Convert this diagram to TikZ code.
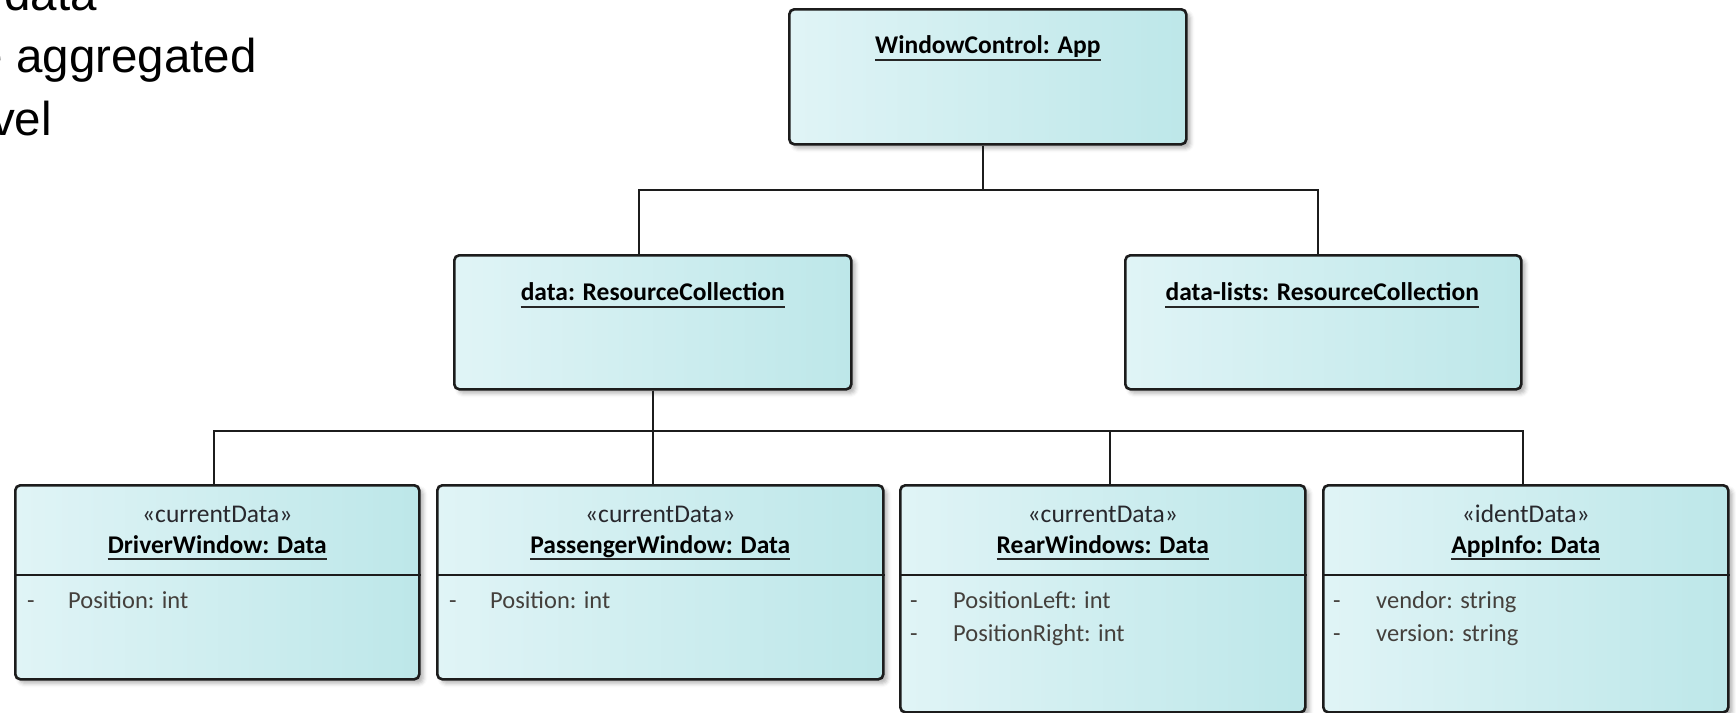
\documentclass[tikz,border=0pt]{standalone}
\usepackage{fontspec}
\setmainfont{Carlito}
\newfontfamily\arialfont{Liberation Sans}
\usetikzlibrary{shadows.blur,calc}
\definecolor{boxleft}{RGB}{224,244,246}
\definecolor{boxright}{RGB}{189,231,233}
\definecolor{edge}{RGB}{28,28,28}
\definecolor{attrtext}{RGB}{68,64,60}
\definecolor{stereotext}{RGB}{40,40,45}
\begin{document}
\begin{tikzpicture}[x=1pt,y=-1pt,
  umlbox/.style={draw=edge, line width=2.6pt, rounded corners=5pt,
    left color=boxleft, right color=boxright,
    blur shadow={shadow xshift=4pt, shadow yshift=-4pt, shadow blur radius=4pt, shadow opacity=30},
    inner sep=0pt, anchor=north west},
  conn/.style={draw=edge, line width=2.3pt},
  titletext/.style={inner sep=0pt, anchor=base, font=\fontsize{25.5}{30}\selectfont\bfseries, text=black},
  stereo/.style={inner sep=0pt, anchor=base, font=\fontsize{25.5}{30}\selectfont, text=stereotext},
  attr/.style={inner sep=0pt, anchor=base west, font=\fontsize{24.5}{30}\selectfont, text=attrtext},
  uline/.style={line width=2.3pt, draw=black!85},
  sep/.style={line width=2.5pt, draw=edge},
  lead/.style={inner sep=0pt, anchor=base east, font=\fontsize{47.5}{57}\arialfont, text=black}
]
\useasboundingbox (0,0) rectangle (1736,712);
\clip (0,0) rectangle (1736,712);

% paragraph text at the left
\node[lead] (lead1) at (97,10) {data};
\node[lead] (lead2) at (257,72) {e aggregated};
\node[lead] (lead3) at (52,135) {vel};

% boxes
\node[umlbox, minimum width=397pt, minimum height=135pt] (wc) at (788,8) {};
\node[umlbox, minimum width=397pt, minimum height=134pt] (dat) at (453,254) {};
\node[umlbox, minimum width=396pt, minimum height=134pt] (dl) at (1124,254) {};
\node[umlbox, minimum width=404pt, minimum height=194pt] (drv) at (14,484) {};
\node[umlbox, minimum width=446pt, minimum height=194pt] (pas) at (436,484) {};
\node[umlbox, minimum width=405pt, minimum height=227pt] (rear) at (899,484) {};
\node[umlbox, minimum width=405pt, minimum height=227pt] (app) at (1322,484) {};

% titles of the upper boxes
\node[titletext] (wct) at ($(wc.north)+(0,45)$) {WindowControl: App};
\node[titletext] (datt) at ($(dat.north)+(0,46)$) {data: ResourceCollection};
\node[titletext] (dlt) at ($(dl.north)+(-1,46)$) {data-lists: ResourceCollection};
\foreach \t in {wct,datt,dlt}
  \draw[uline] ([yshift=-7pt]\t.base west) -- ([yshift=-7pt]\t.base east);

% data boxes: stereotype, name, compartment line, attributes
\foreach \b/\s/\n in {drv/currentData/DriverWindow: Data,
                      pas/currentData/PassengerWindow: Data,
                      rear/currentData/RearWindows: Data,
                      app/identData/AppInfo: Data} {
  \node[stereo] (\b s) at ($(\b.north)+(0,38)$) {«\s»};
  \node[titletext] (\b n) at ($(\b.north)+(0,69)$) {\n};
  \draw[uline] ([yshift=-6pt]\b n.base west) -- ([yshift=-6pt]\b n.base east);
  \draw[sep] ($(\b.north west)+(0,91)$) -- ($(\b.north east)+(0,91)$);
}
\node[attr] (drva) at ($(drv.north west)+(13,124)$) {-};
\node[attr] (drvb) at ($(drv.north west)+(54,124)$) {Position: int};
\node[attr] (pasa) at ($(pas.north west)+(13,124)$) {-};
\node[attr] (pasb) at ($(pas.north west)+(54,124)$) {Position: int};
\node[attr] (reara) at ($(rear.north west)+(11,124)$) {-};
\node[attr] (rearb) at ($(rear.north west)+(54,124)$) {PositionLeft: int};
\node[attr] (rearc) at ($(rear.north west)+(11,157)$) {-};
\node[attr] (reard) at ($(rear.north west)+(54,157)$) {PositionRight: int};
\node[attr] (appa) at ($(app.north west)+(11,124)$) {-};
\node[attr] (appb) at ($(app.north west)+(54,124)$) {vendor: string};
\node[attr] (appc) at ($(app.north west)+(11,157)$) {-};
\node[attr] (appd) at ($(app.north west)+(54,157)$) {version: string};

% connector ports and bus levels
\coordinate (busup) at (0,190);
\coordinate (buslow) at (0,431);
\coordinate (wcp) at ([xshift=-4.5pt]wc.south);
\coordinate (datp) at ([xshift=-13.5pt]dat.north);
\coordinate (dlp) at ([xshift=-5pt]dl.north);
\coordinate (datq) at ([xshift=0.5pt]dat.south);
\coordinate (drvp) at ([xshift=-3pt]drv.north);
\coordinate (pasp) at ([xshift=-7pt]pas.north);
\coordinate (rearp) at ([xshift=7.5pt]rear.north);
\coordinate (appp) at ([xshift=-2.5pt]app.north);

% connectors
\draw[conn] (wcp) |- (busup -| datp) -- (datp);
\draw[conn] (wcp) |- (busup -| dlp) -- (dlp);
\draw[conn] (datq) |- (buslow -| drvp) -- (drvp);
\draw[conn] (datq) -- (pasp);
\draw[conn] (datq) |- (buslow -| rearp) -- (rearp);
\draw[conn] (datq) |- (buslow -| appp) -- (appp);
\end{tikzpicture}
\end{document}
